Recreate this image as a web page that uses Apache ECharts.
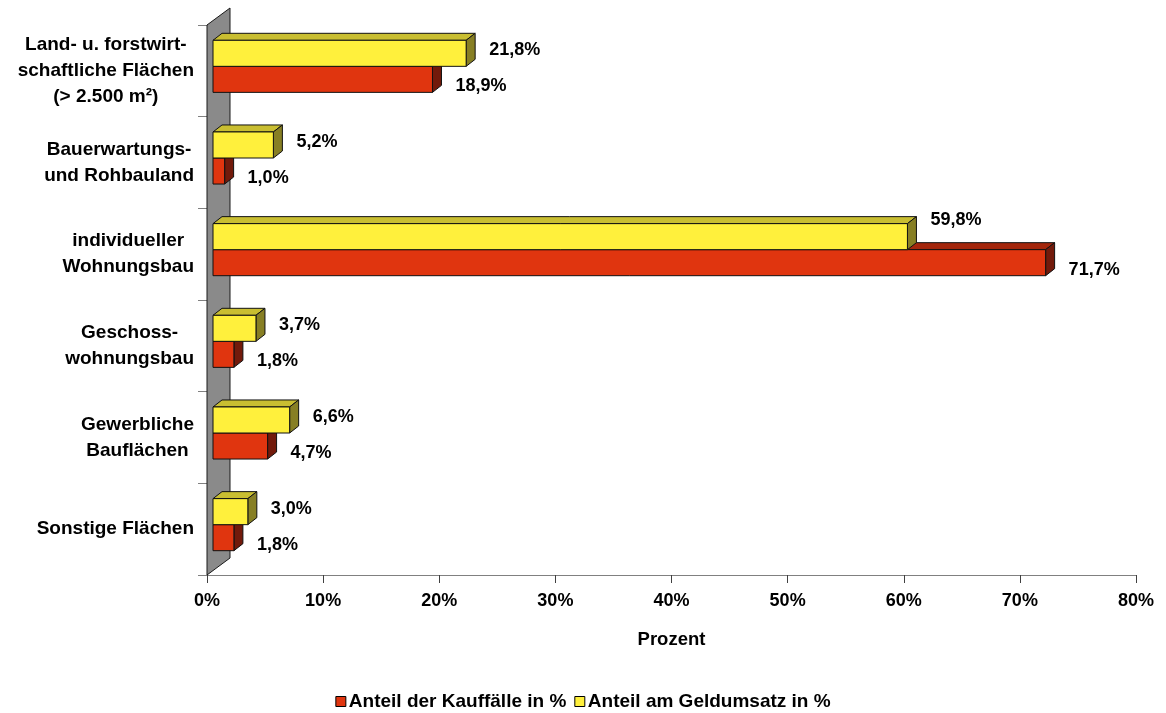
<!DOCTYPE html>
<html>
<head>
<meta charset="utf-8">
<script src="https://cdn.jsdelivr.net/npm/echarts@6/dist/echarts.min.js"></script>
<style>
  html, body { margin: 0; padding: 0; background: #fff; }
  #chart { width: 1166px; height: 713px; }
</style>
</head>
<body>
<div id="chart"></div>
<script>
// Land categories (top to bottom)
const categories = [
  'Land- u. forstwirt-\nschaftliche Flächen\n(> 2.500 m²)',
  'Bauerwartungs-\nund Rohbauland',
  'individueller\nWohnungsbau',
  'Geschoss-\nwohnungsbau',
  'Gewerbliche\nBauflächen',
  'Sonstige Flächen'
];
// Share of purchase cases in %
const kauffaelle = [18.9, 1.0, 71.7, 1.8, 4.7, 1.8];
// Share of money turnover in %
const geldumsatz = [21.8, 5.2, 59.8, 3.7, 6.6, 3.0];
// Value axis ticks
const xMin = 0, xMax = 80, xStep = 10;

const seriesNames = ['Anteil der Kauffälle in %', 'Anteil am Geldumsatz in %'];
const FONT = '"Liberation Sans", Arial, Helvetica, sans-serif';

// Shading for the three visible faces of each box
const palette = {
  red:    { front: '#E0350F', top: '#A4260C', side: '#721A0B' },
  yellow: { front: '#FFF03C', top: '#C9BE31', side: '#877F24' }
};

// 3D geometry: bars sit a little inside the side wall
const WALL = { dx: 23, dy: -17 };
const FRONT = { dx: 6, dy: -4.5 };
const DEPTH = { dx: 9, dy: -7 };
const BAR_RATIO = 0.284;

const fmt = v => v.toFixed(1).replace('.', ',') + '%';

function wallRenderer(params, api) {
  const cs = params.coordSys;
  return {
    type: 'polygon',
    shape: { points: [
      [cs.x, cs.y + cs.height],
      [cs.x, cs.y],
      [cs.x + WALL.dx, cs.y + WALL.dy],
      [cs.x + WALL.dx, cs.y + cs.height + WALL.dy]
    ] },
    style: { fill: '#8A8A8A', stroke: '#1a1a1a', lineWidth: 1 },
    silent: true
  };
}

// slot 0 = upper bar of the pair, slot 1 = lower bar
function boxRenderer(slot, colors, otherValues) {
  return function (params, api) {
    const cat = api.value(0);
    const val = api.value(1);
    const base = api.coord([0, cat]);
    const end = api.coord([val, cat]);
    const band = api.size([0, 1])[1];
    const h = band * BAR_RATIO;
    const cy = base[1] + FRONT.dy;
    const top = slot === 0 ? cy - h : cy;
    const x0 = base[0] + FRONT.dx;
    const x1 = end[0] + FRONT.dx;
    const stroke = { stroke: '#111', lineWidth: 1, lineJoin: 'miter' };

    let labelY = top + h / 2 + (slot === 0 ? -3 : 7);
    // lift the upper label when a longer bar runs beneath it
    if (slot === 0 && otherValues[cat] > val) labelY -= 14;

    return {
      type: 'group',
      children: [
        { type: 'polygon', shape: { points: [[x0, top], [x0 + DEPTH.dx, top + DEPTH.dy], [x1 + DEPTH.dx, top + DEPTH.dy], [x1, top]] },
          style: Object.assign({ fill: colors.top }, stroke) },
        { type: 'polygon', shape: { points: [[x1, top], [x1 + DEPTH.dx, top + DEPTH.dy], [x1 + DEPTH.dx, top + h + DEPTH.dy], [x1, top + h]] },
          style: Object.assign({ fill: colors.side }, stroke) },
        { type: 'rect', shape: { x: x0, y: top, width: x1 - x0, height: h },
          style: Object.assign({ fill: colors.front }, stroke) },
        { type: 'text', x: x1 + 23, y: labelY,
          style: { text: fmt(val), fill: '#000', font: 'bold 18px ' + FONT, textAlign: 'left', textVerticalAlign: 'middle' } }
      ]
    };
  };
}

const chart = echarts.init(document.getElementById('chart'), null, { renderer: 'canvas' });

chart.setOption({
  animation: false,
  backgroundColor: '#fff',
  grid: { left: 207, right: 30, top: 25, bottom: 138, containLabel: false },
  xAxis: {
    type: 'value',
    min: xMin, max: xMax, interval: xStep,
    name: 'Prozent',
    nameLocation: 'middle',
    nameGap: 55,
    nameTextStyle: { fontFamily: FONT, fontWeight: 'bold', fontSize: 18.5, color: '#000' },
    axisLine: { show: true, lineStyle: { color: '#808080', width: 1 } },
    axisTick: { show: true, length: 8, lineStyle: { color: '#404040' } },
    splitLine: { show: false },
    axisLabel: {
      formatter: '{value}%', margin: 17,
      fontFamily: FONT, fontWeight: 'bold', fontSize: 18, color: '#000'
    }
  },
  yAxis: {
    type: 'category',
    inverse: true,
    data: categories,
    axisLine: { show: true, lineStyle: { color: '#1a1a1a' } },
    axisTick: { show: true, length: 9, lineStyle: { color: '#808080' } },
    axisLabel: {
      interval: 0,
      align: 'right',
      margin: 13,
      formatter: v => v.split('\n').map(l => '{c|' + l + '}').join('\n'),
      rich: {
        c: { align: 'center', fontFamily: FONT, fontWeight: 'bold', fontSize: 19, lineHeight: 26, color: '#000' }
      }
    }
  },
  legend: {
    data: seriesNames,
    top: 687,
    left: 'center',
    icon: 'rect',
    itemWidth: 10,
    itemHeight: 10,
    itemGap: 8,
    itemStyle: { borderColor: '#000', borderWidth: 1 },
    textStyle: { fontFamily: FONT, fontWeight: 'bold', fontSize: 19, color: '#000', padding: [0, 0, 0, -2] }
  },
  series: [
    {
      type: 'custom',
      name: 'wall',
      renderItem: wallRenderer,
      data: [[0, 0]],
      encode: { x: 1, y: 0 },
      clip: false,
      z: 1
    },
    {
      type: 'custom',
      name: seriesNames[0],
      itemStyle: { color: palette.red.front },
      renderItem: boxRenderer(1, palette.red, geldumsatz),
      data: kauffaelle.map((v, i) => [i, v]),
      encode: { x: 1, y: 0 },
      clip: false,
      z: 2
    },
    {
      type: 'custom',
      name: seriesNames[1],
      itemStyle: { color: palette.yellow.front },
      renderItem: boxRenderer(0, palette.yellow, kauffaelle),
      data: geldumsatz.map((v, i) => [i, v]),
      encode: { x: 1, y: 0 },
      clip: false,
      z: 3
    }
  ]
});
</script>
</body>
</html>
